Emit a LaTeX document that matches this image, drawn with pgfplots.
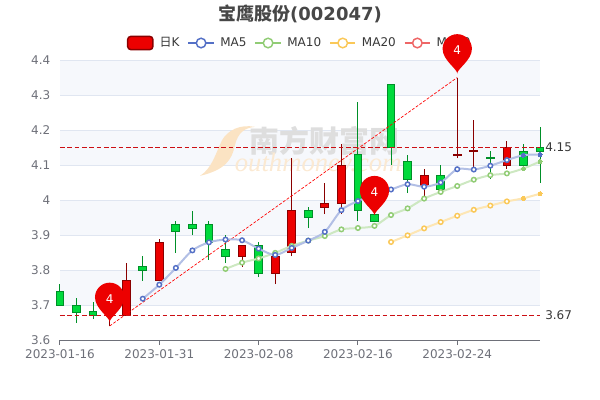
\documentclass[border=0pt]{standalone}
\usepackage{fontspec}
\usepackage{pgfplots}
\usepackage{pgfplotstable}
\pgfplotsset{compat=1.18}
\setmainfont{DejaVu Sans}
\newfontfamily\cjk{Noto Sans CJK SC}
\newfontfamily\wmserif{Liberation Serif}
\definecolor{upfill}{HTML}{EC0000}
\definecolor{upline}{HTML}{8A0000}
\definecolor{dnfill}{HTML}{00DA3C}
\definecolor{dnline}{HTML}{008F28}
\definecolor{gridc}{HTML}{E0E6F1}
\definecolor{band}{HTML}{F6F8FC}
\definecolor{axisc}{HTML}{6E7079}
\definecolor{ma5}{HTML}{5470C6}
\definecolor{ma10}{HTML}{91CC75}
\definecolor{ma20}{HTML}{FAC858}
\definecolor{ma30}{HTML}{EE6666}
\definecolor{markline}{HTML}{CC0F14}
\definecolor{wmorange}{HTML}{FBE3C3}
\definecolor{wmtext}{HTML}{FBE9D2}
\pgfdeclareplotmark{pin}{%
  \pgfpathmoveto{\pgfpoint{0pt}{3pt}}%
  \pgfpathcurveto{\pgfpoint{0pt}{6.5pt}}{\pgfpoint{-11pt}{13pt}}{\pgfpoint{-11pt}{21.5pt}}%
  \pgfpatharc{180}{0}{11pt}%
  \pgfpathcurveto{\pgfpoint{11pt}{13pt}}{\pgfpoint{0pt}{6.5pt}}{\pgfpoint{0pt}{3pt}}%
  \pgfpathclose\pgfusepathqfill}
% i, low, lower body, upper body, high
\newcommand{\candle}[7]{%
  \pgfmathsetmacro\xa{#3-0.235}\pgfmathsetmacro\xb{#3+0.235}%
  \addplot[forget plot,draw=#2,line width=.75pt] coordinates {(#3,#4) (#3,#7)};
  \edef\temp{\noexpand\addplot[forget plot,draw=#2,fill=#1,line width=.75pt] coordinates {(\xa,#5) (\xb,#5) (\xb,#6) (\xa,#6)} -- cycle;}\temp
}
\newcommand{\upc}[5]{\candle{upfill}{upline}{#1}{#2}{#3}{#4}{#5}}
\newcommand{\dnc}[5]{\candle{dnfill}{dnline}{#1}{#2}{#3}{#4}{#5}}
\pgfplotstableread{
x y
5 3.718
6 3.758
7 3.806
8 3.856
9 3.879
10 3.887
11 3.885
12 3.861
13 3.843
14 3.863
15 3.884
16 3.909
17 3.971
18 3.997
19 4.015
20 4.030
21 4.045
22 4.038
23 4.050
24 4.088
25 4.087
26 4.098
27 4.114
28 4.128
29 4.130
}\tma
\pgfplotstableread{
x y
10 3.803
11 3.821
12 3.833
13 3.849
14 3.869
15 3.884
16 3.897
17 3.916
18 3.920
19 3.926
20 3.957
21 3.976
22 4.004
23 4.023
24 4.040
25 4.058
26 4.071
27 4.076
28 4.090
29 4.110
}\tmb
\pgfplotstableread{
x y
20 3.880
21 3.899
22 3.919
23 3.937
24 3.955
25 3.972
26 3.984
27 3.996
28 4.005
29 4.018
}\tmc
\newcommand{\maplot}[3]{%
 \addplot[forget plot,no marks,smooth,tension=.5,draw=#2!45!white,line width=1.5pt] table {#1};
 \addplot[forget plot,only marks,mark=*,mark size=1.7pt,mark indices={1,...,#3},mark options={draw=#2,fill=white,line width=1.1pt}] table {#1};
}
\newcommand{\maend}[2]{%
 \addplot[forget plot,only marks,mark=*,mark size=1.5pt,mark options={draw=#2,fill=#2,line width=0pt}] table {#1};
}
\pgfplotstableread{
x y
28 4.128
29 4.130
}\tmaend
\pgfplotstableread{
x y
28 4.090
29 4.110
}\tmbend
\pgfplotstableread{
x y
28 4.005
29 4.018
}\tmcend
\begin{document}
\begin{tikzpicture}
\useasboundingbox (0,0) rectangle (450pt,-300pt);
\node[text=black!72,font=\fontsize{13.5pt}{16pt}\selectfont\bfseries,inner sep=0pt] at (225pt,-10.5pt) {{\cjk 宝鹰股份}(002047)};
\begin{axis}[
  at={(45pt,-255pt)},anchor=south west,scale only axis,width=360pt,height=210pt,
  xmin=0,xmax=29,ymin=3.6,ymax=4.4,clip=false,
  axis x line=bottom,axis y line=left,
  x axis line style={-,draw=axisc,line width=.75pt},
  y axis line style={draw=none},
  xtick={0,6,12,18,24},xticklabels={2023-01-16,2023-01-31,2023-02-08,2023-02-16,2023-02-24},
  ytick={3.6,3.7,3.8,3.9,4,4.1,4.2,4.3,4.4},yticklabels={3.6,3.7,3.8,3.9,4,4.1,4.2,4.3,4.4},
  tick align=outside,
  xtick style={draw=axisc,line width=.75pt},
  major tick length=3.75pt,
  ytick style={draw=none},
  tick label style={text=axisc,font=\fontsize{9pt}{10pt}\selectfont},
  legend cell align=left,
  legend style={at={(0.5,1.0607)},anchor=center,draw=none,fill=none,legend columns=-1,
    font=\fontsize{9pt}{10pt}\selectfont,text=black!78,inner sep=0pt,
    /tikz/every even column/.append style={column sep=4.2pt},
    /tikz/every odd column/.append style={column sep=2.5pt}},
]
% bands
\fill[band] (axis cs:0,4.3) rectangle (axis cs:29,4.4);
\fill[band] (axis cs:0,4.1) rectangle (axis cs:29,4.2);
\fill[band] (axis cs:0,3.9) rectangle (axis cs:29,4.0);
\fill[band] (axis cs:0,3.7) rectangle (axis cs:29,3.8);
\draw[gridc,line width=.75pt] (axis cs:0,3.7)--(axis cs:29,3.7) (axis cs:0,3.8)--(axis cs:29,3.8) (axis cs:0,3.9)--(axis cs:29,3.9) (axis cs:0,4)--(axis cs:29,4) (axis cs:0,4.1)--(axis cs:29,4.1) (axis cs:0,4.2)--(axis cs:29,4.2) (axis cs:0,4.3)--(axis cs:29,4.3) (axis cs:0,4.4)--(axis cs:29,4.4);
% watermark
\fill[wmorange] (axis cs:8.46,4.069) .. controls (axis cs:9.97,4.086) and (axis cs:10.39,4.114) .. (axis cs:10.57,4.157) .. controls (axis cs:10.76,4.194) and (axis cs:11.18,4.206) .. (axis cs:11.78,4.209) .. controls (axis cs:10.88,4.217) and (axis cs:10.15,4.2) .. (axis cs:9.79,4.171) .. controls (axis cs:9.37,4.129) and (axis cs:9.18,4.091) .. (axis cs:8.46,4.069) -- cycle;
\node[text=black!13,font=\fontsize{22.5pt}{24pt}\selectfont\bfseries\cjk,inner sep=0pt,anchor=center] at (axis cs:16.0,4.169) {南方财富网};
\node[text=wmtext,font=\fontsize{20pt}{20pt}\selectfont\itshape\wmserif,inner sep=0pt,anchor=center] at (axis cs:15.6,4.10) {outhmoney.com};
% candles
\dnc{0}{3.70}{3.70}{3.74}{3.76}
\dnc{1}{3.65}{3.68}{3.70}{3.72}
\dnc{2}{3.66}{3.671}{3.681}{3.71}
\upc{3}{3.64}{3.67}{3.70}{3.71}
\upc{4}{3.67}{3.67}{3.77}{3.82}
\dnc{5}{3.77}{3.80}{3.81}{3.84}
\upc{6}{3.77}{3.77}{3.88}{3.89}
\dnc{7}{3.85}{3.91}{3.93}{3.94}
\dnc{8}{3.90}{3.92}{3.93}{3.97}
\dnc{9}{3.83}{3.88}{3.93}{3.94}
\dnc{10}{3.82}{3.84}{3.86}{3.90}
\upc{11}{3.81}{3.84}{3.87}{3.87}
\dnc{12}{3.78}{3.79}{3.87}{3.88}
\upc{13}{3.76}{3.79}{3.84}{3.84}
\upc{14}{3.84}{3.85}{3.97}{4.12}
\dnc{15}{3.92}{3.95}{3.97}{3.98}
\upc{16}{3.96}{3.98}{3.99}{4.05}
\upc{17}{3.96}{3.99}{4.10}{4.16}
\dnc{18}{3.94}{3.97}{4.13}{4.28}
\dnc{19}{3.94}{3.94}{3.96}{3.96}
\dnc{20}{4.10}{4.15}{4.33}{4.33}
\dnc{21}{4.02}{4.06}{4.11}{4.13}
\upc{22}{4.01}{4.04}{4.07}{4.09}
\dnc{23}{4.03}{4.03}{4.07}{4.10}
\upc{24}{4.12}{4.127}{4.129}{4.35}
\upc{25}{4.08}{4.139}{4.141}{4.23}
\dnc{26}{4.06}{4.119}{4.121}{4.14}
\upc{27}{4.09}{4.10}{4.15}{4.17}
\dnc{28}{4.10}{4.10}{4.14}{4.16}
\dnc{29}{4.05}{4.14}{4.15}{4.21}
% mark lines
\addplot[forget plot,draw=markline,line width=.8pt,dash pattern=on 3.5pt off 2pt] coordinates {(0,4.15) (29,4.15)};
\addplot[forget plot,draw=markline,line width=.8pt,dash pattern=on 3.5pt off 2pt] coordinates {(0,3.67) (29,3.67)};
\node[anchor=west,inner sep=0pt,xshift=3.75pt,text=black!78,font=\fontsize{9pt}{10pt}\selectfont] at (axis cs:29,4.15) {4.15};
\node[anchor=west,inner sep=0pt,xshift=3.75pt,text=black!78,font=\fontsize{9pt}{10pt}\selectfont] at (axis cs:29,3.67) {3.67};
\addplot[forget plot,draw=red,line width=.5pt,dash pattern=on 2.2pt off 1.2pt] coordinates {(3,3.64) (24,4.35)};
% moving averages
\maplot{\tmc}{ma20}{8}
\maplot{\tmb}{ma10}{18}
\maplot{\tma}{ma5}{23}
\maend{\tmcend}{ma20}
\maend{\tmbend}{ma10}
\maend{\tmaend}{ma5}
% legend
\addlegendimage{legend image code/.code={\draw[draw=upline,fill=upfill,line width=1.1pt,rounded corners=2.5pt] (1.5pt,-5pt) rectangle (20.5pt,5pt);}}
\addlegendentry{{\cjk 日}K}
\addlegendimage{legend image code/.code={\draw[ma5,line width=.9pt] (0pt,0pt)--(6pt,0pt) (13pt,0pt)--(19pt,0pt);\draw[ma5,line width=1.1pt,fill=white] (9.5pt,0pt) circle (3.6pt);}}
\addlegendentry{MA5}
\addlegendimage{legend image code/.code={\draw[ma10,line width=.9pt] (0pt,0pt)--(6pt,0pt) (13pt,0pt)--(19pt,0pt);\draw[ma10,line width=1.1pt,fill=white] (9.5pt,0pt) circle (3.6pt);}}
\addlegendentry{MA10}
\addlegendimage{legend image code/.code={\draw[ma20,line width=.9pt] (0pt,0pt)--(6pt,0pt) (13pt,0pt)--(19pt,0pt);\draw[ma20,line width=1.1pt,fill=white] (9.5pt,0pt) circle (3.6pt);}}
\addlegendentry{MA20}
\addlegendimage{legend image code/.code={\draw[ma30,line width=.9pt] (0pt,0pt)--(6pt,0pt) (13pt,0pt)--(19pt,0pt);\draw[ma30,line width=1.1pt,fill=white] (9.5pt,0pt) circle (3.6pt);}}
\addlegendentry{MA30}
\end{axis}
\begin{axis}[
  at={(45pt,-255pt)},anchor=south west,scale only axis,width=360pt,height=210pt,
  xmin=0,xmax=29,ymin=3.6,ymax=4.4,clip=false,hide axis,
]
\addplot[only marks,mark=pin,color=upfill,
  nodes near coords={4},
  every node near coord/.style={anchor=center,yshift=20.5pt,text=white,inner sep=0pt,font=\fontsize{9pt}{10pt}\selectfont}]
  coordinates {(3,3.64) (19,3.945) (24,4.35)};
\end{axis}
\end{tikzpicture}
\end{document}
